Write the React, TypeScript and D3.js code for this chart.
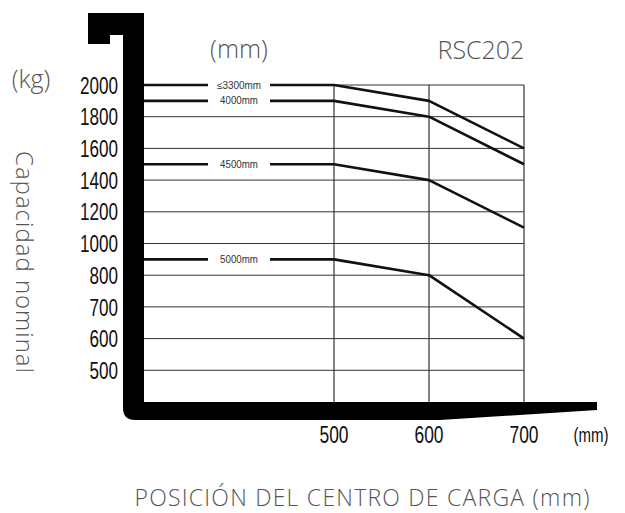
import React from "react";
import * as d3 from "d3";

// capacity chart data
const yTicks = [2000, 1800, 1600, 1400, 1200, 1000, 800, 700, 600, 500];
const xTicks = [500, 600, 700];
const xPositions = [300, 500, 600, 700];
const seriesNames = ["≤3300mm", "4000mm", "4500mm", "5000mm"];
const cap3300 = [2000, 2000, 1900, 1600];
const cap4000 = [1900, 1900, 1800, 1500];
const cap4500 = [1500, 1500, 1400, 1100];
const cap5000 = [900, 900, 800, 600];

const W = 625;
const H = 513;

const x = d3.scaleLinear().domain([300, 700]).range([144, 524]);
// evenly spaced gridlines, non-linear values
const yDomain = [400, ...[...yTicks].reverse()];
const step = 31.7;
const y = d3
  .scaleLinear()
  .domain(yDomain)
  .range(yDomain.map((_, i) => 402 - i * step));

const series = [cap3300, cap4000, cap4500, cap5000].map((vals, i) => ({
  name: seriesNames[i],
  points: vals.map((v, j) => [xPositions[j], v] as [number, number]),
}));

const line = d3
  .line<[number, number]>()
  .x((d) => x(d[0]))
  .y((d) => y(d[1]));

const digitFont = "'Liberation Sans', Arial, sans-serif";
const titleFont = "'Open Sans', 'Noto Sans', sans-serif";

export default function App() {
  const inner = x(300);
  const base = y(400);
  const right = x(700);
  const top = y(2000);
  const labelX = x(400);

  // fork outline
  const fork = [
    `M${inner - 56},13`,
    `H${inner}`,
    `V${base}`,
    `H${inner + 453}`,
    `V${base + 8}`,
    `L${inner + 296},${base + 18}`,
    `H${inner - 9}`,
    `Q${inner - 21},${base + 18} ${inner - 21},${base + 6}`,
    `V44`,
    `H${inner - 21}`,
    `V35`,
    `H${inner - 34}`,
    `V44`,
    `H${inner - 56}`,
    "Z",
  ].join(" ");

  return (
    <svg
      width={W}
      height={H}
      style={{ position: "absolute", left: 0, top: 0, background: "#fff" }}
    >
      {/* grid */}
      {yTicks.map((t) => (
        <line
          key={"h" + t}
          x1={inner}
          x2={right}
          y1={y(t)}
          y2={y(t)}
          stroke="#333"
          strokeWidth={1}
        />
      ))}
      {xTicks.map((t) => (
        <line
          key={"v" + t}
          x1={x(t)}
          x2={x(t)}
          y1={top}
          y2={base}
          stroke="#333"
          strokeWidth={1.2}
        />
      ))}

      {/* curves */}
      {series.map((s) => (
        <g key={s.name}>
          <path
            d={line(s.points) || ""}
            fill="none"
            stroke="#111"
            strokeWidth={2.6}
            strokeLinejoin="round"
          />
          <rect
            x={labelX - 31}
            y={y(s.points[0][1]) - 5}
            width={62}
            height={10}
            fill="#fff"
          />
          <text
            x={labelX}
            y={y(s.points[0][1])}
            textAnchor="middle"
            dominantBaseline="central"
            fontFamily={digitFont}
            fontSize={10}
            fill="#333"
            textLength={s.name.length * 6.3}
            lengthAdjust="spacingAndGlyphs"
          >
            {s.name}
          </text>
        </g>
      ))}

      {/* fork */}
      <path d={fork} fill="#000" />

      {/* y tick labels */}
      {yTicks.map((t) => (
        <text
          key={"yl" + t}
          x={118}
          y={y(t)}
          dy="0.36em"
          textAnchor="end"
          fontFamily={digitFont}
          fontSize={24}
          fill="#111"
          textLength={String(t).length * 9.5}
          lengthAdjust="spacingAndGlyphs"
        >
          {t}
        </text>
      ))}

      {/* x tick labels */}
      {xTicks.map((t) => (
        <text
          key={"xl" + t}
          x={x(t)}
          y={443}
          textAnchor="middle"
          fontFamily={digitFont}
          fontSize={24}
          fill="#111"
          textLength={29}
          lengthAdjust="spacingAndGlyphs"
        >
          {t}
        </text>
      ))}
      <text
        x={591}
        y={442}
        textAnchor="middle"
        fontFamily={digitFont}
        fontSize={21}
        fill="#111"
        textLength={35}
        lengthAdjust="spacingAndGlyphs"
      >
        (mm)
      </text>

      {/* titles */}
      <text x={31} y={88} textAnchor="middle" fontFamily={titleFont} fontWeight={300} fontSize={25} fill="#555">
        (kg)
      </text>
      <text x={239} y={58} textAnchor="middle" fontFamily={titleFont} fontWeight={300} fontSize={25} fill="#555">
        (mm)
      </text>
      <text x={481} y={59} textAnchor="middle" fontFamily={titleFont} fontWeight={300} fontSize={25} fill="#555">
        RSC202
      </text>
      <text
        transform="translate(25,262) rotate(90)"
        textAnchor="middle"
        dominantBaseline="central"
        fontFamily={titleFont}
        fontWeight={300}
        fontSize={24}
        fill="#555"
        textLength={222}
        lengthAdjust="spacing"
      >
        Capacidad nominal
      </text>
      <text
        x={362}
        y={506}
        textAnchor="middle"
        fontFamily={titleFont}
        fontWeight={300}
        fontSize={23}
        fill="#555"
        textLength={455}
        lengthAdjust="spacing"
      >
        POSICIÓN DEL CENTRO DE CARGA (mm)
      </text>
    </svg>
  );
}
